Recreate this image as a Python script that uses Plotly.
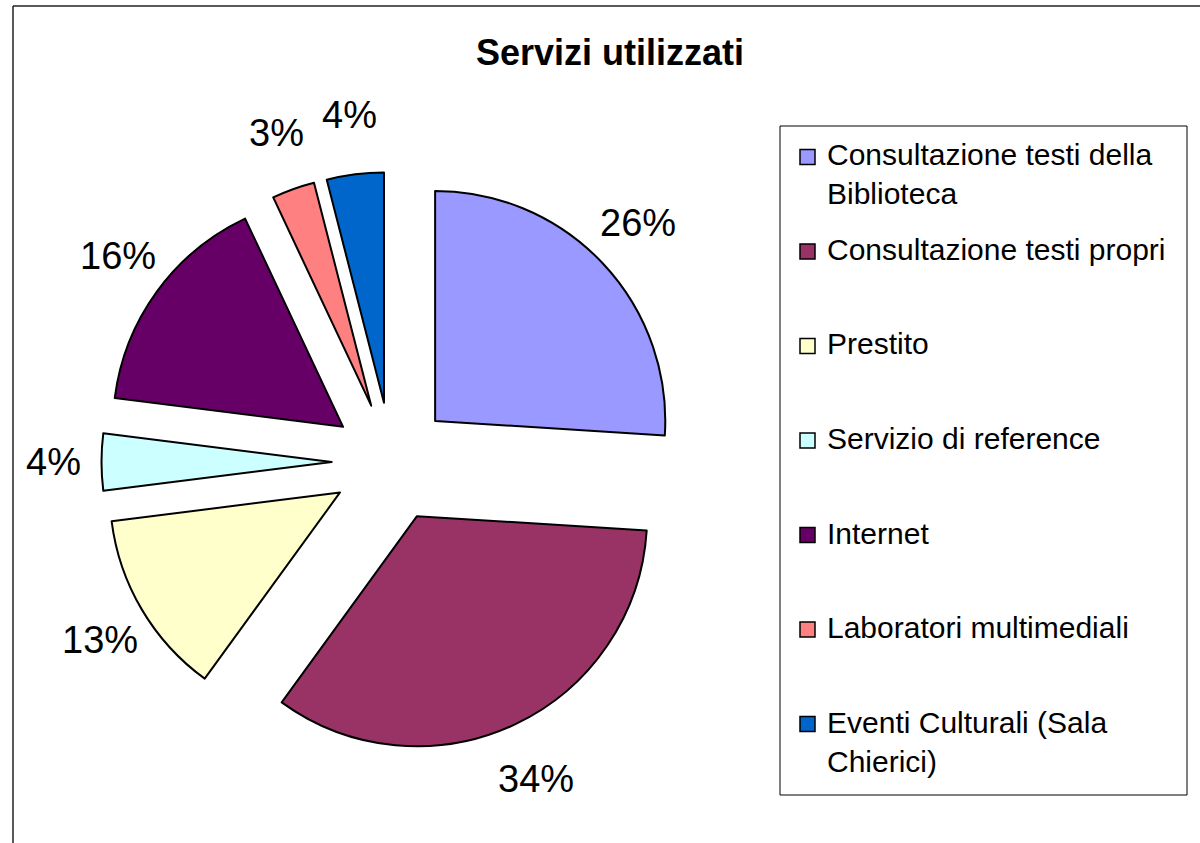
import math
import plotly.graph_objects as go

labels = [
    "Consultazione testi della<br>Biblioteca",
    "Consultazione testi propri",
    "Prestito",
    "Servizio di reference",
    "Internet",
    "Laboratori multimediali",
    "Eventi Culturali (Sala<br>Chierici)",
]
values = [26, 34, 13, 4, 16, 3, 4]
colors = ["#9999FF", "#993366", "#FFFFCC", "#CCFFFF", "#660066", "#FF8080", "#0066CC"]
title = "Servizi utilizzati"

W, H = 1200, 843
FONT = "Liberation Sans, Arial, sans-serif"
PULL = 0.26
LABEL_SIZE = 38
LEG_SIZE = 30


def fx(px):
    return px / W


def fy(py):
    return 1 - py / H


cx, cy, half = 391.5, 462, 290
r = half / (1 + PULL)

fig = go.Figure(go.Pie(
    labels=labels,
    values=values,
    sort=False,
    direction="clockwise",
    rotation=0,
    pull=[PULL] * len(values),
    marker=dict(colors=colors, line=dict(color="black", width=2)),
    textinfo="none",
    domain=dict(x=[fx(cx - half), fx(cx + half)],
                y=[fy(cy + half), fy(cy - half)]),
    hoverinfo="label+percent",
    showlegend=False,
))

annotations = []
shapes = []

# percentage labels outside each slice, positioned from the values
total = sum(values)
cum = 0
for v in values:
    mid = (cum + v / 2) / total * 2 * math.pi
    cum += v
    s, c = math.sin(mid), math.cos(mid)
    px = cx + 1.47 * r * s
    py = cy - 1.52 * r * c
    annotations.append(dict(
        text=f"{round(100 * v / total)}%", x=fx(px), y=fy(py),
        xref="paper", yref="paper", xanchor="center", yanchor="middle",
        showarrow=False, font=dict(family=FONT, size=LABEL_SIZE, color="black"),
    ))

annotations.append(dict(
    text=f"<b>{title}</b>", x=fx(610), y=fy(52), xref="paper", yref="paper",
    xanchor="center", yanchor="middle", showarrow=False,
    font=dict(family=FONT, size=36, color="black"),
))

# legend box
leg_x0, leg_y0, leg_x1, leg_y1 = 780, 126, 1187, 795
shapes.append(dict(type="rect", xref="paper", yref="paper",
                   x0=fx(leg_x0), x1=fx(leg_x1), y0=fy(leg_y1), y1=fy(leg_y0),
                   line=dict(color="black", width=1), fillcolor="white", layer="below"))
first_y, step = 157, 94.5
for i, (lab, col) in enumerate(zip(labels, colors)):
    yc = first_y + step * i
    shapes.append(dict(type="rect", xref="paper", yref="paper",
                       x0=fx(800), x1=fx(815), y0=fy(yc + 7.5), y1=fy(yc - 7.5),
                       line=dict(color="black", width=1.5), fillcolor=col))
    annotations.append(dict(
        text=lab, x=fx(825), y=fy(yc - 0.65 * LEG_SIZE - 1), xref="paper", yref="paper",
        xanchor="left", yanchor="top", align="left", showarrow=False,
        font=dict(family=FONT, size=LEG_SIZE, color="black"),
    ))

# outer chart frame (top and left edges visible)
shapes.append(dict(type="line", xref="paper", yref="paper",
                   x0=fx(13), x1=1, y0=fy(6), y1=fy(6),
                   line=dict(color="#222", width=1.5)))
shapes.append(dict(type="line", xref="paper", yref="paper",
                   x0=fx(13), x1=fx(13), y0=0, y1=fy(6),
                   line=dict(color="#222", width=1.5)))

fig.update_layout(
    width=W, height=H,
    margin=dict(l=0, r=0, t=0, b=0),
    paper_bgcolor="white",
    plot_bgcolor="white",
    annotations=annotations,
    shapes=shapes,
)

fig.write_html("out.html", config={"displayModeBar": False},
               post_script="document.body.style.margin='0';")
